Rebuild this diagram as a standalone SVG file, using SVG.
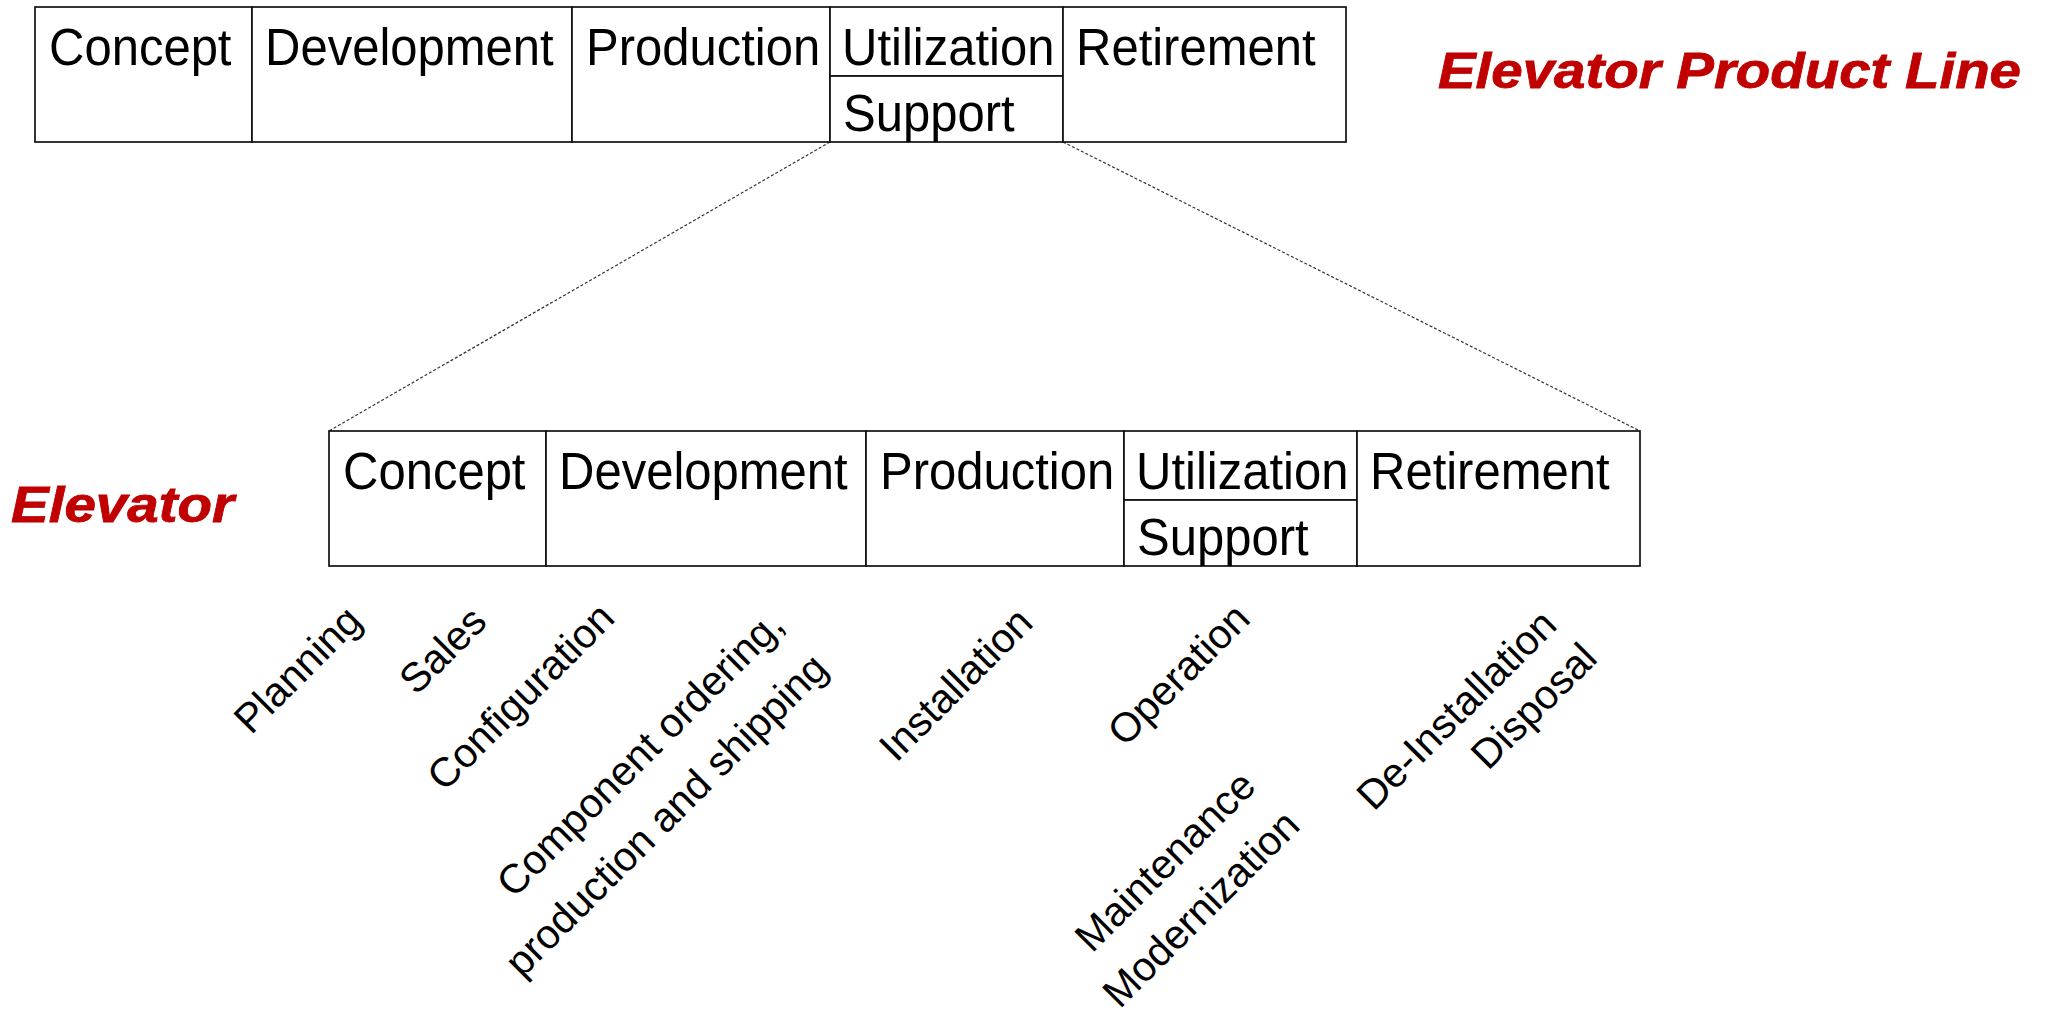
<svg xmlns="http://www.w3.org/2000/svg" width="2046" height="1013" viewBox="0 0 2046 1013">
<style>
  .cell { fill: #ffffff; stroke: #111111; stroke-width: 1.7; }
  .bt { font-family: "Liberation Sans", Arial, Helvetica, sans-serif; font-size: 51px; fill: #000000; }
  .lbl { font-family: "Liberation Sans", Arial, Helvetica, sans-serif; font-size: 41px; fill: #000000; }
  .title { font-family: "Liberation Sans", Arial, Helvetica, sans-serif; font-size: 50px; font-weight: bold; font-style: italic; fill: #C00000; stroke: #C00000; stroke-width: 0.8; }
  .zoom { fill: none; stroke: #333333; stroke-width: 1.2; stroke-dasharray: 3 2; }
</style>
<rect x="0" y="0" width="2046" height="1013" fill="#ffffff"/>

<!-- connectors -->
<g id="connectors">
  <line class="zoom" x1="830" y1="142" x2="329" y2="431"/>
  <line class="zoom" x1="1063" y1="142" x2="1640" y2="431"/>
</g>

<!-- Product line lifecycle -->
<g id="pl-concept">
  <rect class="cell" x="35" y="7" width="217" height="135"/>
  <text class="bt" x="49" y="65" textLength="182.5" lengthAdjust="spacingAndGlyphs">Concept</text>
</g>
<g id="pl-development">
  <rect class="cell" x="252" y="7" width="320" height="135"/>
  <text class="bt" x="265" y="65" textLength="288.7" lengthAdjust="spacingAndGlyphs">Development</text>
</g>
<g id="pl-production">
  <rect class="cell" x="572" y="7" width="258" height="135"/>
  <text class="bt" x="586" y="65" textLength="234.2" lengthAdjust="spacingAndGlyphs">Production</text>
</g>
<g id="pl-utilization">
  <rect class="cell" x="830" y="7" width="233" height="69"/>
  <text class="bt" x="842" y="65" textLength="212.4" lengthAdjust="spacingAndGlyphs">Utilization</text>
</g>
<g id="pl-support">
  <rect class="cell" x="830" y="76" width="233" height="66"/>
  <text class="bt" x="843" y="131" textLength="171.6" lengthAdjust="spacingAndGlyphs">Support</text>
</g>
<g id="pl-retirement">
  <rect class="cell" x="1063" y="7" width="283" height="135"/>
  <text class="bt" x="1076" y="65" textLength="239.6" lengthAdjust="spacingAndGlyphs">Retirement</text>
</g>

<!-- Elevator lifecycle -->
<g id="el-concept">
  <rect class="cell" x="329" y="431" width="217" height="135"/>
  <text class="bt" x="343" y="489" textLength="182.5" lengthAdjust="spacingAndGlyphs">Concept</text>
</g>
<g id="el-development">
  <rect class="cell" x="546" y="431" width="320" height="135"/>
  <text class="bt" x="559" y="489" textLength="288.7" lengthAdjust="spacingAndGlyphs">Development</text>
</g>
<g id="el-production">
  <rect class="cell" x="866" y="431" width="258" height="135"/>
  <text class="bt" x="880" y="489" textLength="234.2" lengthAdjust="spacingAndGlyphs">Production</text>
</g>
<g id="el-utilization">
  <rect class="cell" x="1124" y="431" width="233" height="69"/>
  <text class="bt" x="1136" y="489" textLength="212.4" lengthAdjust="spacingAndGlyphs">Utilization</text>
</g>
<g id="el-support">
  <rect class="cell" x="1124" y="500" width="233" height="66"/>
  <text class="bt" x="1137" y="555" textLength="171.6" lengthAdjust="spacingAndGlyphs">Support</text>
</g>
<g id="el-retirement">
  <rect class="cell" x="1357" y="431" width="283" height="135"/>
  <text class="bt" x="1370" y="489" textLength="239.6" lengthAdjust="spacingAndGlyphs">Retirement</text>
</g>

<!-- titles -->
<g id="title-product-line">
  <text class="title" x="1438" y="88" textLength="583" lengthAdjust="spacingAndGlyphs">Elevator Product Line</text>
</g>
<g id="title-elevator">
  <text class="title" x="11" y="522" textLength="223" lengthAdjust="spacingAndGlyphs">Elevator</text>
</g>

<!-- rotated activity labels -->
<g id="lbl-planning">
  <text class="lbl" transform="translate(300,672) rotate(-45)" text-anchor="middle" y="10.5">Planning</text>
</g>
<g id="lbl-sales">
  <text class="lbl" transform="translate(442,649.5) rotate(-45)" text-anchor="middle" y="15">Sales</text>
</g>
<g id="lbl-configuration">
  <text class="lbl" transform="translate(523,699) rotate(-45)" text-anchor="middle" y="10.5">Configuration</text>
</g>
<g id="lbl-component">
  <text class="lbl" transform="translate(786,627) rotate(-45)" text-anchor="end"><tspan x="0" y="0">Component ordering,</tspan><tspan x="0" y="62">production and shipping</tspan></text>
</g>
<g id="lbl-installation">
  <text class="lbl" transform="translate(955,683.5) rotate(-45)" text-anchor="middle" y="15">Installation</text>
</g>
<g id="lbl-operation">
  <text class="lbl" transform="translate(1181,677) rotate(-45)" text-anchor="middle" y="10.5">Operation</text>
</g>
<g id="lbl-maintenance">
  <text class="lbl" transform="translate(1258,788) rotate(-45)" text-anchor="end"><tspan x="0" y="0">Maintenance</tspan><tspan x="3" y="59">Modernization</tspan></text>
</g>
<g id="lbl-deinstallation">
  <text class="lbl" transform="translate(1559,627) rotate(-45)" text-anchor="end"><tspan x="0" y="0">De-Installation</tspan><tspan x="5" y="52">Disposal</tspan></text>
</g>
</svg>
